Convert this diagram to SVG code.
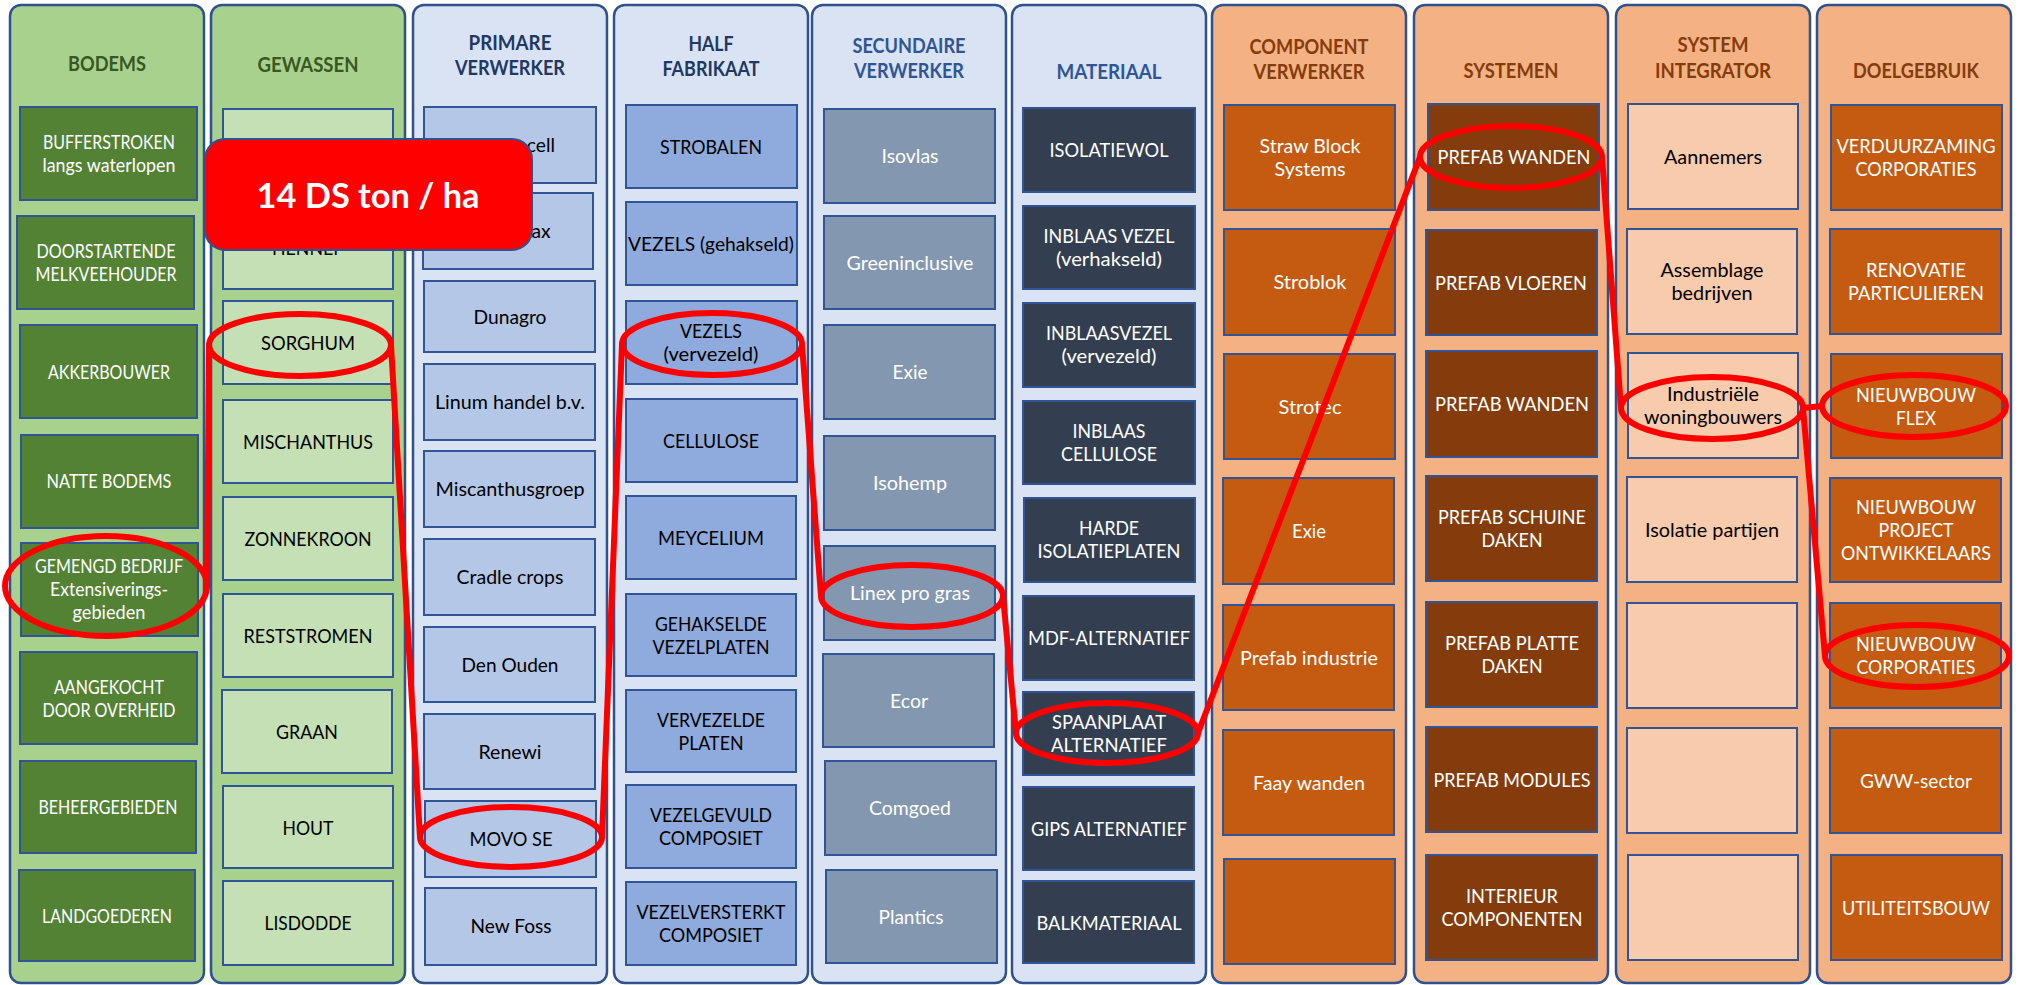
<svg xmlns="http://www.w3.org/2000/svg" width="2019" height="985" viewBox="0 0 2019 985">
<style>
.col{stroke:#2F528F;stroke-width:2.5}
.cg{fill:#A9D18E}.cb{fill:#DAE3F3}.co{fill:#F4B183}
.bx{stroke:#2F5597;stroke-width:2}
.f1{fill:#548235}.f2{fill:#C5E0B4}.f3{fill:#B4C7E7}.f4{fill:#8FAADC}.f5{fill:#8497B0}.f6{fill:#333F50}.f7{fill:#C55A11}.f8{fill:#843C0C}.f9{fill:#F8CBAD}
text{font-family:Lato,"Liberation Sans",sans-serif;text-anchor:middle}
.t{font-size:19px}
.w{fill:#FFFFFF}.k{fill:#000000}
.h{font-size:20px;font-weight:bold}
.hg{fill:#385723}.hn{fill:#203864}.hb{fill:#2F5597}.ho{fill:#843C0C}
.hl{fill:none;stroke:#FF0000;stroke-width:6}
.ln{fill:none;stroke:#FF0000;stroke-width:6;stroke-linecap:round;stroke-linejoin:round}
</style>
<rect width="2019" height="985" fill="#FFFFFF"/>

<g id="col-bodems">
<rect class="col cg" x="10" y="5" width="194" height="978" rx="11"/>
<text class="h hg" x="107" y="71" textLength="78" lengthAdjust="spacingAndGlyphs">BODEMS</text>
<g id="n-bufferstroken"><rect class="bx f1" x="20" y="107" width="177" height="93"/><text class="t w" x="109" y="149" textLength="132" lengthAdjust="spacingAndGlyphs">BUFFERSTROKEN</text><text class="t w" x="109" y="172" textLength="133" lengthAdjust="spacingAndGlyphs">langs waterlopen</text></g>
<g id="n-doorstartende"><rect class="bx f1" x="17" y="216" width="177" height="93"/><text class="t w" x="106" y="258" textLength="139" lengthAdjust="spacingAndGlyphs">DOORSTARTENDE</text><text class="t w" x="106" y="281" textLength="141" lengthAdjust="spacingAndGlyphs">MELKVEEHOUDER</text></g>
<g id="n-akkerbouwer"><rect class="bx f1" x="20" y="325" width="177" height="93"/><text class="t w" x="109" y="379" textLength="122" lengthAdjust="spacingAndGlyphs">AKKERBOUWER</text></g>
<g id="n-natte"><rect class="bx f1" x="21" y="435" width="177" height="93"/><text class="t w" x="109" y="488" textLength="125" lengthAdjust="spacingAndGlyphs">NATTE BODEMS</text></g>
<g id="n-gemengd"><rect class="bx f1" x="21" y="543" width="177" height="93"/><text class="t w" x="109" y="573" textLength="148" lengthAdjust="spacingAndGlyphs">GEMENGD BEDRIJF</text><text class="t w" x="109" y="596" textLength="118" lengthAdjust="spacingAndGlyphs">Extensiverings-</text><text class="t w" x="109" y="619" textLength="73" lengthAdjust="spacingAndGlyphs">gebieden</text></g>
<g id="n-aangekocht"><rect class="bx f1" x="20" y="652" width="177" height="92"/><text class="t w" x="109" y="694" textLength="110" lengthAdjust="spacingAndGlyphs">AANGEKOCHT</text><text class="t w" x="109" y="717" textLength="133" lengthAdjust="spacingAndGlyphs">DOOR OVERHEID</text></g>
<g id="n-beheer"><rect class="bx f1" x="20" y="761" width="176" height="92"/><text class="t w" x="108" y="814" textLength="139" lengthAdjust="spacingAndGlyphs">BEHEERGEBIEDEN</text></g>
<g id="n-landgoederen"><rect class="bx f1" x="19" y="870" width="176" height="91"/><text class="t w" x="107" y="923" textLength="130" lengthAdjust="spacingAndGlyphs">LANDGOEDEREN</text></g>
</g>

<g id="col-gewassen">
<rect class="col cg" x="211" y="5" width="194" height="978" rx="11"/>
<text class="h hg" x="308" y="72" textLength="101" lengthAdjust="spacingAndGlyphs">GEWASSEN</text>
<g id="n-gew1"><rect class="bx f2" x="223" y="109" width="170" height="84"/></g>
<g id="n-hennep"><rect class="bx f2" x="223" y="205" width="170" height="84"/><text class="t k" x="308" y="255" textLength="72" lengthAdjust="spacingAndGlyphs">HENNEP</text></g>
<g id="n-sorghum"><rect class="bx f2" x="223" y="301" width="170" height="83"/><text class="t k" x="308" y="350" textLength="94" lengthAdjust="spacingAndGlyphs">SORGHUM</text></g>
<g id="n-mischanthus"><rect class="bx f2" x="223" y="400" width="170" height="83"/><text class="t k" x="308" y="449" textLength="130" lengthAdjust="spacingAndGlyphs">MISCHANTHUS</text></g>
<g id="n-zonnekroon"><rect class="bx f2" x="223" y="497" width="170" height="83"/><text class="t k" x="308" y="546" textLength="127" lengthAdjust="spacingAndGlyphs">ZONNEKROON</text></g>
<g id="n-reststromen"><rect class="bx f2" x="223" y="594" width="170" height="83"/><text class="t k" x="308" y="643" textLength="129" lengthAdjust="spacingAndGlyphs">RESTSTROMEN</text></g>
<g id="n-graan"><rect class="bx f2" x="222" y="690" width="170" height="83"/><text class="t k" x="307" y="739" textLength="62" lengthAdjust="spacingAndGlyphs">GRAAN</text></g>
<g id="n-hout"><rect class="bx f2" x="223" y="786" width="170" height="82"/><text class="t k" x="308" y="835" textLength="51" lengthAdjust="spacingAndGlyphs">HOUT</text></g>
<g id="n-lisdodde"><rect class="bx f2" x="223" y="881" width="170" height="84"/><text class="t k" x="308" y="930" textLength="87" lengthAdjust="spacingAndGlyphs">LISDODDE</text></g>
</g>

<g id="col-primare">
<rect class="col cb" x="413" y="5" width="194" height="978" rx="11"/>
<text class="h hn" x="510" y="50" textLength="83" lengthAdjust="spacingAndGlyphs">PRIMARE</text>
<text class="h hn" x="510" y="75" textLength="110" lengthAdjust="spacingAndGlyphs">VERWERKER</text>
<g id="n-millvencell"><rect class="bx f3" x="424" y="107" width="172" height="76"/><text class="t k" x="510" y="152" textLength="90" lengthAdjust="spacingAndGlyphs">Millvencell</text></g>
<g id="n-hempflax"><rect class="bx f3" x="423" y="193" width="170" height="76"/><text class="t k" x="508" y="238" textLength="85" lengthAdjust="spacingAndGlyphs">HempFlax</text></g>
<g id="n-dunagro"><rect class="bx f3" x="424" y="281" width="171" height="71"/><text class="t k" x="510" y="324" textLength="73" lengthAdjust="spacingAndGlyphs">Dunagro</text></g>
<g id="n-linum"><rect class="bx f3" x="424" y="364" width="171" height="76"/><text class="t k" x="510" y="409" textLength="150" lengthAdjust="spacingAndGlyphs">Linum handel b.v.</text></g>
<g id="n-miscanthusgroep"><rect class="bx f3" x="424" y="451" width="171" height="76"/><text class="t k" x="510" y="496" textLength="149" lengthAdjust="spacingAndGlyphs">Miscanthusgroep</text></g>
<g id="n-cradle"><rect class="bx f3" x="424" y="539" width="171" height="76"/><text class="t k" x="510" y="584" textLength="107" lengthAdjust="spacingAndGlyphs">Cradle crops</text></g>
<g id="n-denouden"><rect class="bx f3" x="424" y="627" width="171" height="75"/><text class="t k" x="510" y="672" textLength="97" lengthAdjust="spacingAndGlyphs">Den Ouden</text></g>
<g id="n-renewi"><rect class="bx f3" x="424" y="714" width="171" height="75"/><text class="t k" x="510" y="759" textLength="63" lengthAdjust="spacingAndGlyphs">Renewi</text></g>
<g id="n-movo"><rect class="bx f3" x="425" y="801" width="171" height="76"/><text class="t k" x="511" y="846" textLength="83" lengthAdjust="spacingAndGlyphs">MOVO SE</text></g>
<g id="n-newfoss"><rect class="bx f3" x="425" y="888" width="171" height="77"/><text class="t k" x="511" y="933" textLength="81" lengthAdjust="spacingAndGlyphs">New Foss</text></g>
</g>

<g id="col-half">
<rect class="col cb" x="614" y="5" width="194" height="978" rx="11"/>
<text class="h hn" x="711" y="51" textLength="45" lengthAdjust="spacingAndGlyphs">HALF</text>
<text class="h hn" x="711" y="76" textLength="97" lengthAdjust="spacingAndGlyphs">FABRIKAAT</text>
<g id="n-strobalen"><rect class="bx f4" x="626" y="105" width="171" height="83"/><text class="t k" x="711" y="154" textLength="102" lengthAdjust="spacingAndGlyphs">STROBALEN</text></g>
<g id="n-vezels-geh"><rect class="bx f4" x="626" y="202" width="171" height="83"/><text class="t k" x="711" y="251" textLength="166" lengthAdjust="spacingAndGlyphs">VEZELS (gehakseld)</text></g>
<g id="n-vezels-verv"><rect class="bx f4" x="626" y="301" width="171" height="83"/><text class="t k" x="711" y="338" textLength="62" lengthAdjust="spacingAndGlyphs">VEZELS</text><text class="t k" x="711" y="361" textLength="95" lengthAdjust="spacingAndGlyphs">(vervezeld)</text></g>
<g id="n-cellulose"><rect class="bx f4" x="626" y="399" width="171" height="83"/><text class="t k" x="711" y="448" textLength="96" lengthAdjust="spacingAndGlyphs">CELLULOSE</text></g>
<g id="n-meycelium"><rect class="bx f4" x="626" y="496" width="170" height="83"/><text class="t k" x="711" y="545" textLength="106" lengthAdjust="spacingAndGlyphs">MEYCELIUM</text></g>
<g id="n-gehakselde"><rect class="bx f4" x="626" y="594" width="170" height="82"/><text class="t k" x="711" y="631" textLength="112" lengthAdjust="spacingAndGlyphs">GEHAKSELDE</text><text class="t k" x="711" y="654" textLength="117" lengthAdjust="spacingAndGlyphs">VEZELPLATEN</text></g>
<g id="n-vervezelde"><rect class="bx f4" x="626" y="690" width="170" height="82"/><text class="t k" x="711" y="727" textLength="108" lengthAdjust="spacingAndGlyphs">VERVEZELDE</text><text class="t k" x="711" y="750" textLength="65" lengthAdjust="spacingAndGlyphs">PLATEN</text></g>
<g id="n-vezelgevuld"><rect class="bx f4" x="626" y="785" width="170" height="83"/><text class="t k" x="711" y="822" textLength="122" lengthAdjust="spacingAndGlyphs">VEZELGEVULD</text><text class="t k" x="711" y="845" textLength="104" lengthAdjust="spacingAndGlyphs">COMPOSIET</text></g>
<g id="n-vezelversterkt"><rect class="bx f4" x="626" y="882" width="170" height="83"/><text class="t k" x="711" y="919" textLength="149" lengthAdjust="spacingAndGlyphs">VEZELVERSTERKT</text><text class="t k" x="711" y="942" textLength="104" lengthAdjust="spacingAndGlyphs">COMPOSIET</text></g>
</g>

<g id="col-secundaire">
<rect class="col cb" x="812" y="5" width="194" height="978" rx="11"/>
<text class="h hb" x="909" y="53" textLength="113" lengthAdjust="spacingAndGlyphs">SECUNDAIRE</text>
<text class="h hb" x="909" y="78" textLength="110" lengthAdjust="spacingAndGlyphs">VERWERKER</text>
<g id="n-isovlas"><rect class="bx f5" x="824" y="109" width="171" height="94"/><text class="t w" x="910" y="163" textLength="57" lengthAdjust="spacingAndGlyphs">Isovlas</text></g>
<g id="n-greeninclusive"><rect class="bx f5" x="824" y="216" width="171" height="93"/><text class="t w" x="910" y="270" textLength="127" lengthAdjust="spacingAndGlyphs">Greeninclusive</text></g>
<g id="n-exie"><rect class="bx f5" x="824" y="325" width="171" height="94"/><text class="t w" x="910" y="379" textLength="35" lengthAdjust="spacingAndGlyphs">Exie</text></g>
<g id="n-isohemp"><rect class="bx f5" x="824" y="436" width="171" height="94"/><text class="t w" x="910" y="490" textLength="74" lengthAdjust="spacingAndGlyphs">Isohemp</text></g>
<g id="n-linex"><rect class="bx f5" x="824" y="546" width="171" height="94"/><text class="t w" x="910" y="600" textLength="120" lengthAdjust="spacingAndGlyphs">Linex pro gras</text></g>
<g id="n-ecor"><rect class="bx f5" x="823" y="654" width="171" height="93"/><text class="t w" x="909" y="708" textLength="38" lengthAdjust="spacingAndGlyphs">Ecor</text></g>
<g id="n-comgoed"><rect class="bx f5" x="825" y="761" width="171" height="94"/><text class="t w" x="910" y="815" textLength="82" lengthAdjust="spacingAndGlyphs">Comgoed</text></g>
<g id="n-plantics"><rect class="bx f5" x="826" y="870" width="171" height="93"/><text class="t w" x="911" y="924" textLength="65" lengthAdjust="spacingAndGlyphs">Plantics</text></g>
</g>

<g id="col-materiaal">
<rect class="col cb" x="1012" y="5" width="194" height="978" rx="11"/>
<text class="h hb" x="1109" y="79" textLength="105" lengthAdjust="spacingAndGlyphs">MATERIAAL</text>
<g id="n-isolatiewol"><rect class="bx f6" x="1023" y="108" width="172" height="84"/><text class="t w" x="1109" y="157" textLength="119" lengthAdjust="spacingAndGlyphs">ISOLATIEWOL</text></g>
<g id="n-inblaas-verh"><rect class="bx f6" x="1023" y="206" width="172" height="83"/><text class="t w" x="1109" y="243" textLength="131" lengthAdjust="spacingAndGlyphs">INBLAAS VEZEL</text><text class="t w" x="1109" y="266" textLength="106" lengthAdjust="spacingAndGlyphs">(verhakseld)</text></g>
<g id="n-inblaas-verv"><rect class="bx f6" x="1023" y="303" width="172" height="84"/><text class="t w" x="1109" y="340" textLength="126" lengthAdjust="spacingAndGlyphs">INBLAASVEZEL</text><text class="t w" x="1109" y="363" textLength="95" lengthAdjust="spacingAndGlyphs">(vervezeld)</text></g>
<g id="n-inblaas-cell"><rect class="bx f6" x="1023" y="401" width="172" height="83"/><text class="t w" x="1109" y="438" textLength="73" lengthAdjust="spacingAndGlyphs">INBLAAS</text><text class="t w" x="1109" y="461" textLength="96" lengthAdjust="spacingAndGlyphs">CELLULOSE</text></g>
<g id="n-harde"><rect class="bx f6" x="1024" y="498" width="171" height="84"/><text class="t w" x="1109" y="535" textLength="60" lengthAdjust="spacingAndGlyphs">HARDE</text><text class="t w" x="1109" y="558" textLength="143" lengthAdjust="spacingAndGlyphs">ISOLATIEPLATEN</text></g>
<g id="n-mdf"><rect class="bx f6" x="1023" y="596" width="171" height="84"/><text class="t w" x="1109" y="645" textLength="162" lengthAdjust="spacingAndGlyphs">MDF-ALTERNATIEF</text></g>
<g id="n-spaanplaat"><rect class="bx f6" x="1023" y="692" width="171" height="83"/><text class="t w" x="1109" y="729" textLength="114" lengthAdjust="spacingAndGlyphs">SPAANPLAAT</text><text class="t w" x="1109" y="752" textLength="116" lengthAdjust="spacingAndGlyphs">ALTERNATIEF</text></g>
<g id="n-gips"><rect class="bx f6" x="1023" y="787" width="171" height="83"/><text class="t w" x="1109" y="836" textLength="156" lengthAdjust="spacingAndGlyphs">GIPS ALTERNATIEF</text></g>
<g id="n-balk"><rect class="bx f6" x="1023" y="881" width="171" height="82"/><text class="t w" x="1109" y="930" textLength="145" lengthAdjust="spacingAndGlyphs">BALKMATERIAAL</text></g>
</g>

<g id="col-component">
<rect class="col co" x="1212" y="5" width="194" height="978" rx="11"/>
<text class="h ho" x="1309" y="54" textLength="119" lengthAdjust="spacingAndGlyphs">COMPONENT</text>
<text class="h ho" x="1309" y="79" textLength="111" lengthAdjust="spacingAndGlyphs">VERWERKER</text>
<g id="n-strawblock"><rect class="bx f7" x="1224" y="105" width="171" height="105"/><text class="t w" x="1310" y="153" textLength="101" lengthAdjust="spacingAndGlyphs">Straw Block</text><text class="t w" x="1310" y="176" textLength="71" lengthAdjust="spacingAndGlyphs">Systems</text></g>
<g id="n-stroblok"><rect class="bx f7" x="1224" y="229" width="171" height="106"/><text class="t w" x="1310" y="289" textLength="73" lengthAdjust="spacingAndGlyphs">Stroblok</text></g>
<g id="n-strotec"><rect class="bx f7" x="1224" y="354" width="171" height="105"/><text class="t w" x="1310" y="414" textLength="63" lengthAdjust="spacingAndGlyphs">Strotec</text></g>
<g id="n-exie2"><rect class="bx f7" x="1223" y="478" width="171" height="106"/><text class="t w" x="1309" y="538" textLength="34" lengthAdjust="spacingAndGlyphs">Exie</text></g>
<g id="n-prefabind"><rect class="bx f7" x="1223" y="605" width="171" height="105"/><text class="t w" x="1309" y="665" textLength="138" lengthAdjust="spacingAndGlyphs">Prefab industrie</text></g>
<g id="n-faay"><rect class="bx f7" x="1223" y="730" width="171" height="105"/><text class="t w" x="1309" y="790" textLength="112" lengthAdjust="spacingAndGlyphs">Faay wanden</text></g>
<g id="n-comp7"><rect class="bx f7" x="1224" y="859" width="171" height="105"/></g>
</g>

<g id="col-systemen">
<rect class="col co" x="1414" y="5" width="194" height="978" rx="11"/>
<text class="h ho" x="1511" y="78" textLength="95" lengthAdjust="spacingAndGlyphs">SYSTEMEN</text>
<g id="n-wanden1"><rect class="bx f8" x="1428" y="104" width="171" height="106"/><text class="t w" x="1514" y="164" textLength="153" lengthAdjust="spacingAndGlyphs">PREFAB WANDEN</text></g>
<g id="n-vloeren"><rect class="bx f8" x="1426" y="230" width="171" height="105"/><text class="t w" x="1511" y="290" textLength="152" lengthAdjust="spacingAndGlyphs">PREFAB VLOEREN</text></g>
<g id="n-wanden2"><rect class="bx f8" x="1426" y="351" width="171" height="106"/><text class="t w" x="1512" y="411" textLength="154" lengthAdjust="spacingAndGlyphs">PREFAB WANDEN</text></g>
<g id="n-schuine"><rect class="bx f8" x="1426" y="476" width="171" height="105"/><text class="t w" x="1512" y="524" textLength="148" lengthAdjust="spacingAndGlyphs">PREFAB SCHUINE</text><text class="t w" x="1512" y="547" textLength="61" lengthAdjust="spacingAndGlyphs">DAKEN</text></g>
<g id="n-platte"><rect class="bx f8" x="1426" y="602" width="171" height="105"/><text class="t w" x="1512" y="650" textLength="134" lengthAdjust="spacingAndGlyphs">PREFAB PLATTE</text><text class="t w" x="1512" y="673" textLength="61" lengthAdjust="spacingAndGlyphs">DAKEN</text></g>
<g id="n-modules"><rect class="bx f8" x="1426" y="727" width="171" height="105"/><text class="t w" x="1512" y="787" textLength="157" lengthAdjust="spacingAndGlyphs">PREFAB MODULES</text></g>
<g id="n-interieur"><rect class="bx f8" x="1426" y="855" width="171" height="105"/><text class="t w" x="1512" y="903" textLength="92" lengthAdjust="spacingAndGlyphs">INTERIEUR</text><text class="t w" x="1512" y="926" textLength="141" lengthAdjust="spacingAndGlyphs">COMPONENTEN</text></g>
</g>

<g id="col-integrator">
<rect class="col co" x="1616" y="5" width="194" height="978" rx="11"/>
<text class="h ho" x="1713" y="52" textLength="71" lengthAdjust="spacingAndGlyphs">SYSTEM</text>
<text class="h ho" x="1713" y="78" textLength="116" lengthAdjust="spacingAndGlyphs">INTEGRATOR</text>
<g id="n-aannemers"><rect class="bx f9" x="1628" y="104" width="170" height="105"/><text class="t k" x="1713" y="164" textLength="98" lengthAdjust="spacingAndGlyphs">Aannemers</text></g>
<g id="n-assemblage"><rect class="bx f9" x="1627" y="229" width="170" height="105"/><text class="t k" x="1712" y="277" textLength="103" lengthAdjust="spacingAndGlyphs">Assemblage</text><text class="t k" x="1712" y="300" textLength="81" lengthAdjust="spacingAndGlyphs">bedrijven</text></g>
<g id="n-industriele"><rect class="bx f9" x="1628" y="353" width="170" height="105"/><text class="t k" x="1713" y="401" textLength="92" lengthAdjust="spacingAndGlyphs">Industriële</text><text class="t k" x="1713" y="424" textLength="138" lengthAdjust="spacingAndGlyphs">woningbouwers</text></g>
<g id="n-isolatiepartijen"><rect class="bx f9" x="1627" y="477" width="170" height="105"/><text class="t k" x="1712" y="537" textLength="134" lengthAdjust="spacingAndGlyphs">Isolatie partijen</text></g>
<g id="n-int5"><rect class="bx f9" x="1627" y="603" width="170" height="105"/></g>
<g id="n-int6"><rect class="bx f9" x="1627" y="728" width="170" height="105"/></g>
<g id="n-int7"><rect class="bx f9" x="1628" y="855" width="170" height="105"/></g>
</g>

<g id="col-doelgebruik">
<rect class="col co" x="1817" y="5" width="194" height="978" rx="11"/>
<text class="h ho" x="1916" y="78" textLength="126" lengthAdjust="spacingAndGlyphs">DOELGEBRUIK</text>
<g id="n-verduurzaming"><rect class="bx f7" x="1831" y="105" width="171" height="105"/><text class="t w" x="1916" y="153" textLength="159" lengthAdjust="spacingAndGlyphs">VERDUURZAMING</text><text class="t w" x="1916" y="176" textLength="121" lengthAdjust="spacingAndGlyphs">CORPORATIES</text></g>
<g id="n-renovatie"><rect class="bx f7" x="1830" y="229" width="171" height="105"/><text class="t w" x="1916" y="277" textLength="100" lengthAdjust="spacingAndGlyphs">RENOVATIE</text><text class="t w" x="1916" y="300" textLength="136" lengthAdjust="spacingAndGlyphs">PARTICULIEREN</text></g>
<g id="n-flex"><rect class="bx f7" x="1831" y="354" width="171" height="104"/><text class="t w" x="1916" y="402" textLength="120" lengthAdjust="spacingAndGlyphs">NIEUWBOUW</text><text class="t w" x="1916" y="425" textLength="40" lengthAdjust="spacingAndGlyphs">FLEX</text></g>
<g id="n-project"><rect class="bx f7" x="1830" y="478" width="171" height="104"/><text class="t w" x="1916" y="514" textLength="120" lengthAdjust="spacingAndGlyphs">NIEUWBOUW</text><text class="t w" x="1916" y="537" textLength="75" lengthAdjust="spacingAndGlyphs">PROJECT</text><text class="t w" x="1916" y="560" textLength="150" lengthAdjust="spacingAndGlyphs">ONTWIKKELAARS</text></g>
<g id="n-corporaties"><rect class="bx f7" x="1830" y="603" width="171" height="105"/><text class="t w" x="1916" y="651" textLength="120" lengthAdjust="spacingAndGlyphs">NIEUWBOUW</text><text class="t w" x="1916" y="674" textLength="119" lengthAdjust="spacingAndGlyphs">CORPORATIES</text></g>
<g id="n-gww"><rect class="bx f7" x="1830" y="728" width="171" height="105"/><text class="t w" x="1916" y="788" textLength="112" lengthAdjust="spacingAndGlyphs">GWW-sector</text></g>
<g id="n-utiliteit"><rect class="bx f7" x="1831" y="855" width="171" height="105"/><text class="t w" x="1916" y="915" textLength="148" lengthAdjust="spacingAndGlyphs">UTILITEITSBOUW</text></g>
</g>

<g id="connectors">
<ellipse class="hl" cx="106" cy="586" rx="101" ry="50"/>
<ellipse class="hl" cx="300" cy="345" rx="91" ry="31"/>
<ellipse class="hl" cx="511" cy="837" rx="91" ry="30"/>
<ellipse class="hl" cx="712" cy="344" rx="90" ry="31"/>
<ellipse class="hl" cx="912" cy="596" rx="91" ry="31"/>
<ellipse class="hl" cx="1107" cy="733" rx="91" ry="30"/>
<ellipse class="hl" cx="1511" cy="157" rx="91" ry="31"/>
<ellipse class="hl" cx="1712" cy="408" rx="91" ry="31"/>
<ellipse class="hl" cx="1914" cy="406" rx="92" ry="31"/>
<ellipse class="hl" cx="1917" cy="656" rx="92" ry="31"/>
<polyline class="ln" points="207,586 209,345"/>
<polyline class="ln" points="391,345 420,837"/>
<polyline class="ln" points="602,837 622,344"/>
<polyline class="ln" points="802,344 821,596"/>
<polyline class="ln" points="1003,596 1016,733"/>
<polyline class="ln" points="1198,733 1420,157"/>
<polyline class="ln" points="1602,157 1621,408"/>
<polyline class="ln" points="1803,408 1822,406"/>
<polyline class="ln" points="1803,408 1825,656"/>
</g>

<g id="label-yield">
<rect x="205" y="139" width="327" height="111" rx="20" fill="#FF0000" stroke="#2F528F" stroke-width="2"/>
<text x="368" y="208" font-size="35" font-weight="bold" fill="#FFFFFF" textLength="223" lengthAdjust="spacingAndGlyphs">14 DS ton / ha</text>
</g>
</svg>
